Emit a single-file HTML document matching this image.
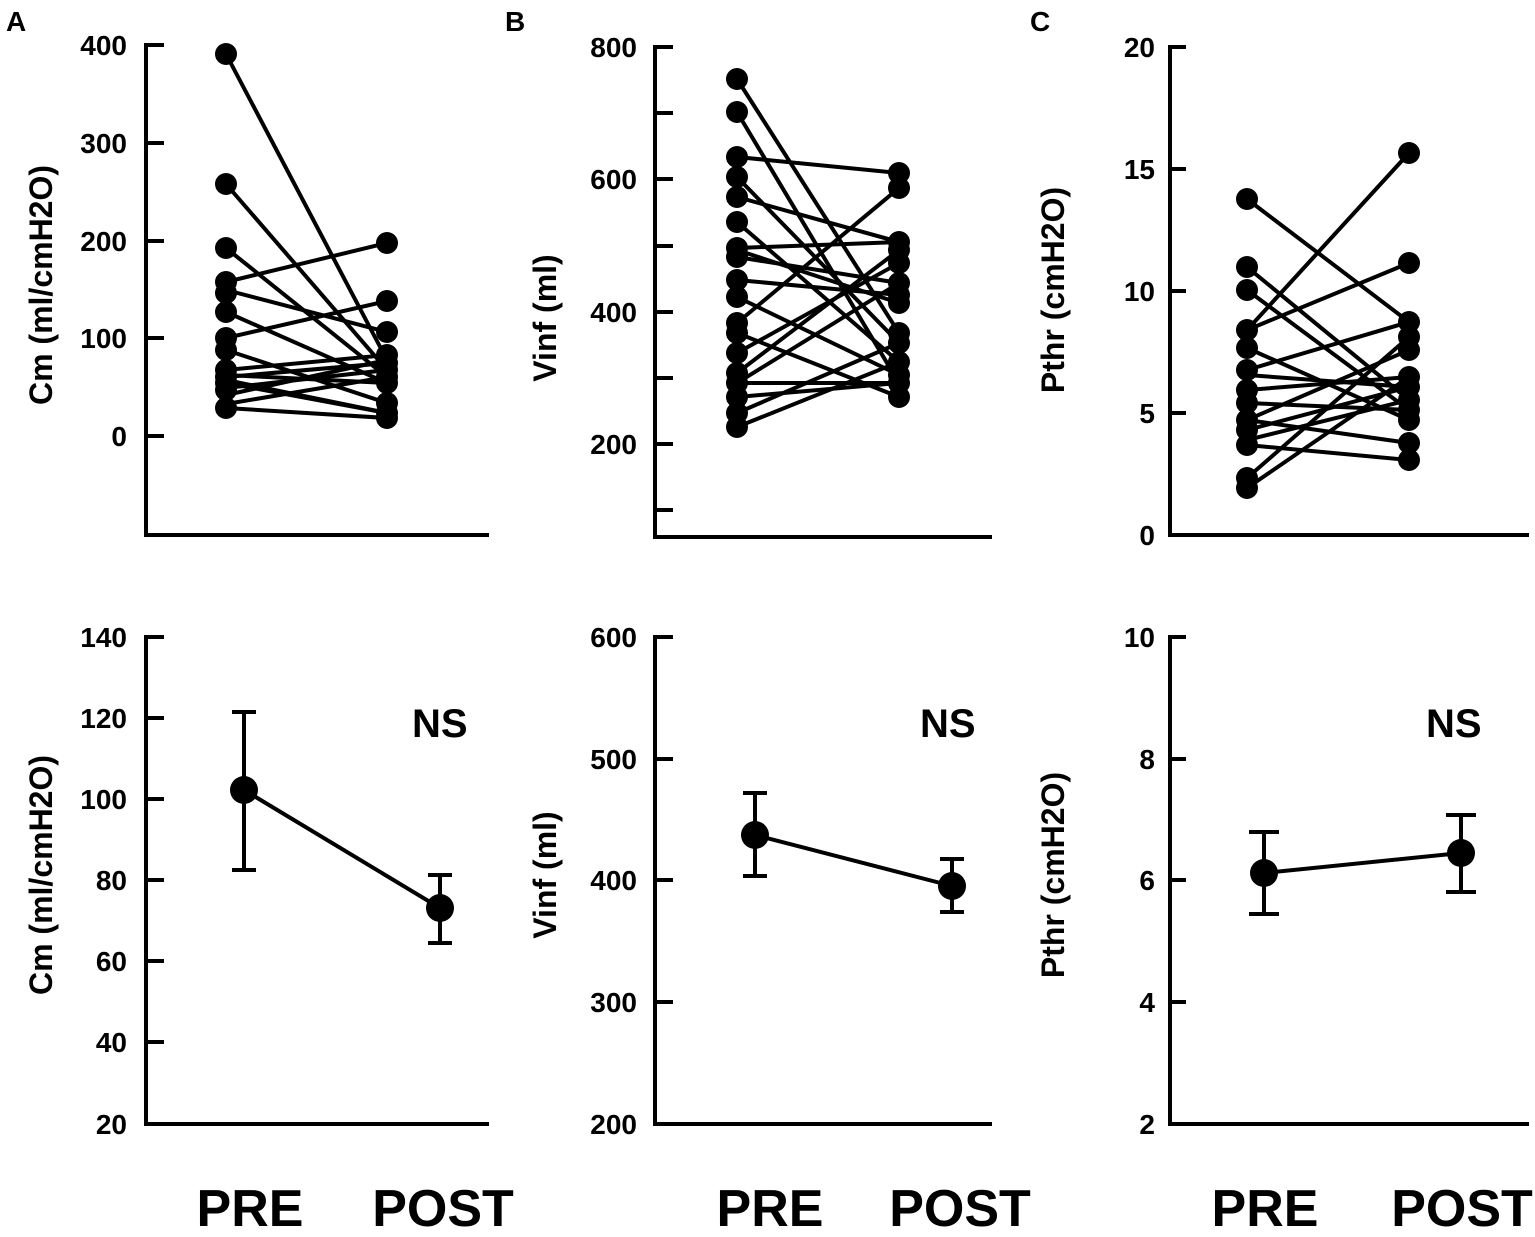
<!DOCTYPE html>
<html><head><meta charset="utf-8"><style>
html,body{margin:0;padding:0;background:#fff;}
svg text{font-family:"Liberation Sans",Arial,sans-serif;font-weight:bold;fill:#000;}
</style></head><body>
<svg width="1535" height="1232" viewBox="0 0 1535 1232" xmlns="http://www.w3.org/2000/svg">
<g stroke="#000" stroke-width="4" fill="none" stroke-linecap="square">
<path d="M146 45 V535 H487"/>
<path d="M146 45h16 M146 143h16 M146 241h16 M146 338h16 M146 436h16"/>
<path d="M655 47 V537 H990"/>
<path d="M655 47h16 M655 113h16 M655 179h16 M655 246h16 M655 312h16 M655 378h16 M655 444h16 M655 510h16"/>
<path d="M1170 47 V535 H1527"/>
<path d="M1170 47h14 M1170 169h14 M1170 291h14 M1170 413h14"/>
<path d="M146 637 V1124 H487"/>
<path d="M146 637h16 M146 718h16 M146 799h16 M146 880h16 M146 961h16 M146 1042h16"/>
<path d="M655 637 V1124 H990"/>
<path d="M655 637h16 M655 759h16 M655 880h16 M655 1002h16"/>
<path d="M1170 637 V1124 H1527"/>
<path d="M1170 637h14 M1170 759h14 M1170 880h14 M1170 1002h14"/>
</g>
<g font-size="28" text-anchor="end">
<text x="127" y="55">400</text><text x="127" y="153">300</text><text x="127" y="251">200</text><text x="127" y="348">100</text><text x="127" y="446">0</text>
<text x="637" y="57">800</text><text x="637" y="189">600</text><text x="637" y="322">400</text><text x="637" y="454">200</text>
<text x="1155" y="57">20</text><text x="1155" y="179">15</text><text x="1155" y="301">10</text><text x="1155" y="423">5</text><text x="1155" y="545">0</text>
<text x="127" y="647">140</text><text x="127" y="728">120</text><text x="127" y="809">100</text><text x="127" y="890">80</text><text x="127" y="971">60</text><text x="127" y="1052">40</text><text x="127" y="1134">20</text>
<text x="637" y="647">600</text><text x="637" y="769">500</text><text x="637" y="890">400</text><text x="637" y="1012">300</text><text x="637" y="1134">200</text>
<text x="1155" y="647">10</text><text x="1155" y="769">8</text><text x="1155" y="890">6</text><text x="1155" y="1012">4</text><text x="1155" y="1134">2</text>
</g>
<g font-size="32" text-anchor="middle">
<text transform="translate(52,285) rotate(-90)">Cm  (ml/cmH2O)</text>
<text transform="translate(52,875) rotate(-90)">Cm  (ml/cmH2O)</text>
<text transform="translate(556,318) rotate(-90)">Vinf (ml)</text>
<text transform="translate(556,875) rotate(-90)">Vinf (ml)</text>
<text transform="translate(1064,290) rotate(-90)">Pthr  (cmH2O)</text>
<text transform="translate(1064,875) rotate(-90)">Pthr  (cmH2O)</text>
</g>
<g font-size="28"><text x="6" y="31">A</text><text x="505" y="31">B</text><text x="1030" y="31">C</text></g>
<g font-size="40"><text x="412" y="737">NS</text><text x="920" y="737">NS</text><text x="1426" y="737">NS</text></g>
<g font-size="52" text-anchor="middle">
<text x="250" y="1226">PRE</text><text x="443" y="1226">POST</text>
<text x="770" y="1226">PRE</text><text x="960" y="1226">POST</text>
<text x="1265" y="1226">PRE</text><text x="1462" y="1226">POST</text>
</g>
<g stroke="#000" stroke-width="4">
<line x1="226" y1="54" x2="387" y2="360"/><line x1="226" y1="184" x2="387" y2="370"/>
<line x1="226" y1="248" x2="387" y2="377"/><line x1="226" y1="282" x2="387" y2="243"/>
<line x1="226" y1="290" x2="387" y2="332"/><line x1="226" y1="312" x2="387" y2="383"/>
<line x1="226" y1="338" x2="387" y2="301"/><line x1="226" y1="350" x2="387" y2="403"/>
<line x1="226" y1="370" x2="387" y2="355"/><line x1="226" y1="377" x2="387" y2="363"/>
<line x1="226" y1="383" x2="387" y2="413"/><line x1="226" y1="388" x2="387" y2="370"/>
<line x1="226" y1="375" x2="387" y2="383"/><line x1="226" y1="395" x2="387" y2="360"/>
<line x1="226" y1="408" x2="387" y2="418"/><line x1="226" y1="404" x2="387" y2="377"/>
<line x1="226" y1="380" x2="387" y2="413"/>
</g>
<g fill="#000">
<circle cx="226" cy="54" r="11"/><circle cx="226" cy="184" r="11"/><circle cx="226" cy="248" r="11"/><circle cx="226" cy="282" r="11"/><circle cx="226" cy="293" r="11"/><circle cx="226" cy="312" r="11"/><circle cx="226" cy="338" r="11"/><circle cx="226" cy="350" r="11"/><circle cx="226" cy="370" r="11"/><circle cx="226" cy="377" r="11"/><circle cx="226" cy="383" r="11"/><circle cx="226" cy="390" r="11"/><circle cx="226" cy="408" r="11"/>
<circle cx="387" cy="243" r="11"/><circle cx="387" cy="301" r="11"/><circle cx="387" cy="332" r="11"/><circle cx="387" cy="355" r="11"/><circle cx="387" cy="363" r="11"/><circle cx="387" cy="370" r="11"/><circle cx="387" cy="377" r="11"/><circle cx="387" cy="383" r="11"/><circle cx="387" cy="403" r="11"/><circle cx="387" cy="413" r="11"/><circle cx="387" cy="418" r="11"/>
</g>
<g stroke="#000" stroke-width="4">
<line x1="737" y1="79" x2="899" y2="333"/><line x1="737" y1="112" x2="899" y2="383"/>
<line x1="737" y1="157" x2="899" y2="173"/><line x1="737" y1="177" x2="899" y2="343"/>
<line x1="737" y1="197" x2="899" y2="242"/><line x1="737" y1="222" x2="899" y2="362"/>
<line x1="737" y1="248" x2="899" y2="242"/><line x1="737" y1="257" x2="899" y2="283"/>
<line x1="737" y1="250" x2="899" y2="303"/><line x1="737" y1="280" x2="899" y2="295"/>
<line x1="737" y1="297" x2="899" y2="375"/><line x1="737" y1="323" x2="899" y2="188"/>
<line x1="737" y1="333" x2="899" y2="397"/><line x1="737" y1="353" x2="899" y2="263"/>
<line x1="737" y1="373" x2="899" y2="250"/><line x1="737" y1="383" x2="899" y2="283"/>
<line x1="737" y1="383" x2="899" y2="383"/><line x1="737" y1="397" x2="899" y2="383"/>
<line x1="737" y1="413" x2="899" y2="343"/><line x1="737" y1="427" x2="899" y2="362"/>
</g>
<g fill="#000">
<circle cx="737" cy="79" r="11"/><circle cx="737" cy="112" r="11"/><circle cx="737" cy="157" r="11"/><circle cx="737" cy="177" r="11"/><circle cx="737" cy="197" r="11"/><circle cx="737" cy="222" r="11"/><circle cx="737" cy="248" r="11"/><circle cx="737" cy="257" r="11"/><circle cx="737" cy="280" r="11"/><circle cx="737" cy="297" r="11"/><circle cx="737" cy="323" r="11"/><circle cx="737" cy="333" r="11"/><circle cx="737" cy="353" r="11"/><circle cx="737" cy="373" r="11"/><circle cx="737" cy="383" r="11"/><circle cx="737" cy="397" r="11"/><circle cx="737" cy="413" r="11"/><circle cx="737" cy="427" r="11"/>
<circle cx="899" cy="173" r="11"/><circle cx="899" cy="188" r="11"/><circle cx="899" cy="242" r="11"/><circle cx="899" cy="250" r="11"/><circle cx="899" cy="263" r="11"/><circle cx="899" cy="283" r="11"/><circle cx="899" cy="295" r="11"/><circle cx="899" cy="303" r="11"/><circle cx="899" cy="333" r="11"/><circle cx="899" cy="343" r="11"/><circle cx="899" cy="362" r="11"/><circle cx="899" cy="375" r="11"/><circle cx="899" cy="383" r="11"/><circle cx="899" cy="397" r="11"/>
</g>
<g stroke="#000" stroke-width="4">
<line x1="1247" y1="199" x2="1409" y2="322"/><line x1="1247" y1="267" x2="1409" y2="400"/>
<line x1="1247" y1="290" x2="1409" y2="410"/><line x1="1247" y1="330" x2="1409" y2="153"/>
<line x1="1247" y1="330" x2="1409" y2="263"/><line x1="1247" y1="348" x2="1409" y2="420"/>
<line x1="1247" y1="370" x2="1409" y2="322"/><line x1="1247" y1="375" x2="1409" y2="387"/>
<line x1="1247" y1="390" x2="1409" y2="377"/><line x1="1247" y1="403" x2="1409" y2="410"/>
<line x1="1247" y1="420" x2="1409" y2="443"/><line x1="1247" y1="420" x2="1409" y2="350"/>
<line x1="1247" y1="430" x2="1409" y2="387"/><line x1="1247" y1="445" x2="1409" y2="460"/>
<line x1="1247" y1="440" x2="1409" y2="400"/><line x1="1247" y1="478" x2="1409" y2="337"/>
<line x1="1247" y1="488" x2="1409" y2="377"/>
</g>
<g fill="#000">
<circle cx="1247" cy="199" r="11"/><circle cx="1247" cy="267" r="11"/><circle cx="1247" cy="290" r="11"/><circle cx="1247" cy="330" r="11"/><circle cx="1247" cy="348" r="11"/><circle cx="1247" cy="370" r="11"/><circle cx="1247" cy="390" r="11"/><circle cx="1247" cy="403" r="11"/><circle cx="1247" cy="420" r="11"/><circle cx="1247" cy="430" r="11"/><circle cx="1247" cy="445" r="11"/><circle cx="1247" cy="478" r="11"/><circle cx="1247" cy="488" r="11"/>
<circle cx="1409" cy="153" r="11"/><circle cx="1409" cy="263" r="11"/><circle cx="1409" cy="322" r="11"/><circle cx="1409" cy="337" r="11"/><circle cx="1409" cy="350" r="11"/><circle cx="1409" cy="377" r="11"/><circle cx="1409" cy="387" r="11"/><circle cx="1409" cy="400" r="11"/><circle cx="1409" cy="410" r="11"/><circle cx="1409" cy="420" r="11"/><circle cx="1409" cy="443" r="11"/><circle cx="1409" cy="460" r="11"/>
</g>
<g stroke="#000" stroke-width="4" fill="none">
<path d="M244 712V870 M232 712h24 M232 870h24 M440 875V943 M428 875h24 M428 943h24 M244 790L440 908"/>
<path d="M755 793V876 M743 793h24 M743 876h24 M952 859V912 M940 859h24 M940 912h24 M755 835L952 886"/>
<path d="M1264 832V914 M1249 832h30 M1249 914h30 M1461 815V892 M1446 815h30 M1446 892h30 M1264 873L1461 853"/>
</g>
<g fill="#000">
<circle cx="244" cy="790" r="14"/><circle cx="440" cy="908" r="14"/>
<circle cx="755" cy="835" r="14"/><circle cx="952" cy="886" r="14"/>
<circle cx="1264" cy="873" r="14"/><circle cx="1461" cy="853" r="14"/>
</g>
</svg>
</body></html>
